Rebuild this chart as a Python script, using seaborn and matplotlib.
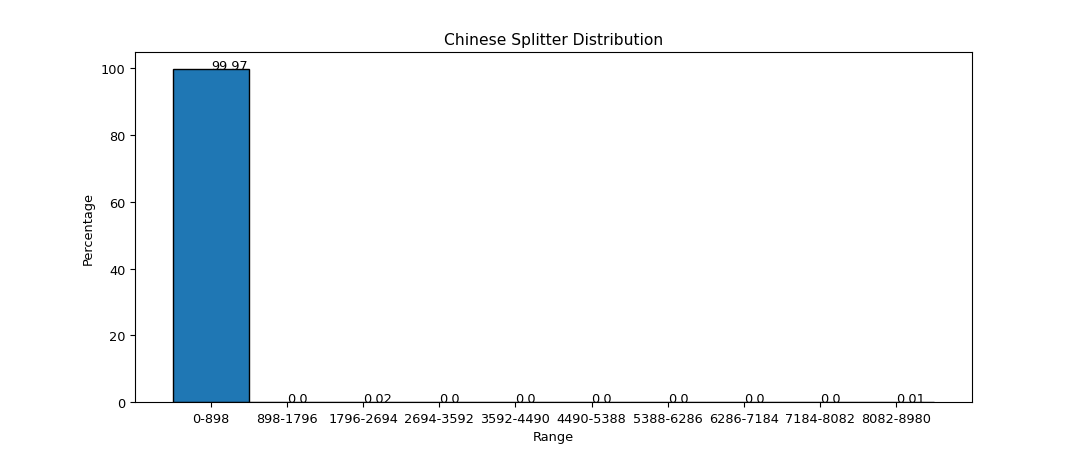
import matplotlib
matplotlib.use('Agg')
from matplotlib import pyplot as plt
import pandas as pd
import seaborn as sns

ranges = ['0-898', '898-1796', '1796-2694', '2694-3592', '3592-4490',
          '4490-5388', '5388-6286', '6286-7184', '7184-8082', '8082-8980']
percentages = [99.97, 0.0, 0.02, 0.0, 0.0, 0.0, 0.0, 0.0, 0.0, 0.01]

df = pd.DataFrame({'Range': ranges, 'Percentage': percentages})

plt.rcParams['font.size'] = 9.3

fig, ax = plt.subplots(figsize=(10.8, 4.52), dpi=100)
fig.subplots_adjust(left=0.125, right=0.9, bottom=0.108, top=0.883)
sns.barplot(data=df, x='Range', y='Percentage', color='#1f77b4', saturation=1,
            width=1.0, edgecolor='black', linewidth=1, ax=ax)

# value labels, left-aligned at bar centre
for i, v in enumerate(percentages):
    ax.text(i, v, str(v))

ax.set_xlim(-1, 10)
ax.set_title('Chinese Splitter Distribution')
ax.set_xlabel('Range')
ax.set_ylabel('Percentage')

plt.savefig('out.png')
